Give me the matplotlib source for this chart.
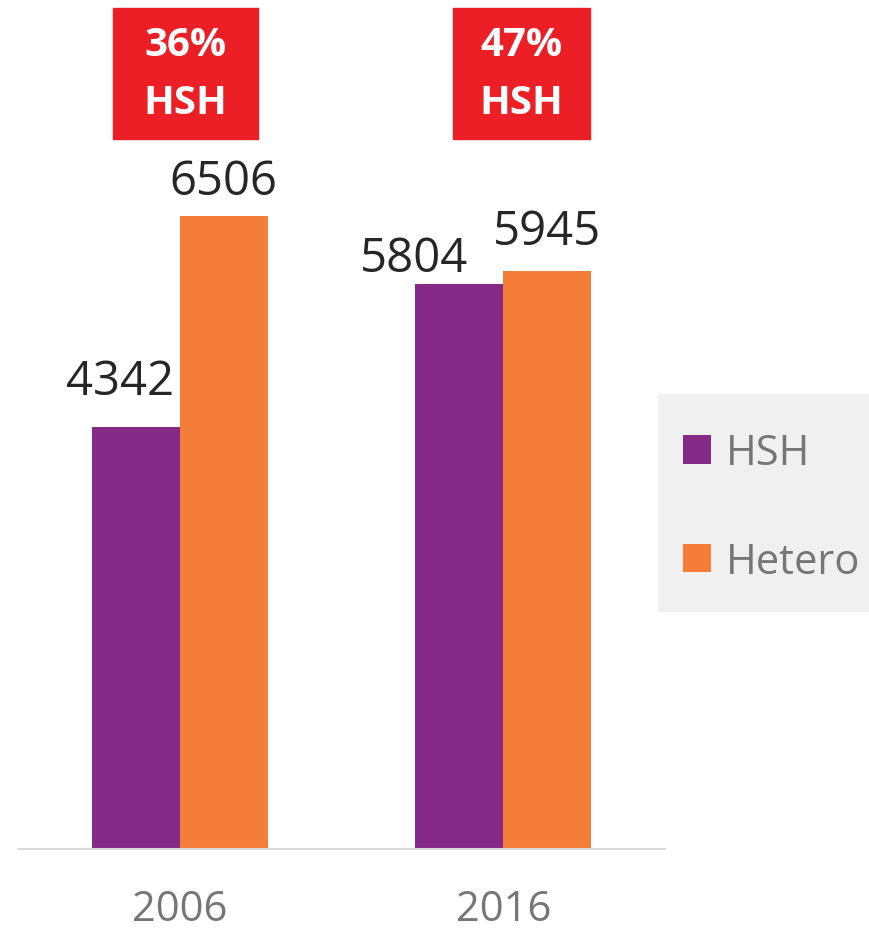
import matplotlib
matplotlib.use('Agg')
import matplotlib.pyplot as plt
from matplotlib.patches import Rectangle
import numpy as np

# data
years = ['2006', '2016']
hsh = [4342, 5804]
hetero = [6506, 5945]
share_pct = ['36%', '47%']
share_group = 'HSH'

PURPLE = '#862a87'
ORANGE = '#f47d3a'
RED = '#ec1f27'
GREY_TXT = '#767676'

plt.rcParams['font.family'] = ['Open Sans', 'DejaVu Sans']

W, H = 869, 929
fig = plt.figure(figsize=(W / 100, H / 100), dpi=100)

def fx(px):
    return px / W

def fy(py):
    return 1 - py / H

# axes: baseline at y=850, x from 18 to 665
ax = fig.add_axes([fx(18), fy(850), fx(665) - fx(18), fy(0) - fy(850)])

x = np.arange(len(years))
bw = 0.2716
b1 = ax.bar(x - bw / 2, hsh, bw, color=PURPLE, label='HSH')
b2 = ax.bar(x + bw / 2, hetero, bw, color=ORANGE, label='Hetero')

ax.set_xlim(-0.5, 1.5)
ax.set_ylim(0, 8736)
ax.set_yticks([])
for s in ['top', 'right', 'left']:
    ax.spines[s].set_visible(False)
ax.spines['bottom'].set_color('#d9d9d9')
ax.spines['bottom'].set_linewidth(1.5)
ax.set_xticks(x)
ax.set_xticklabels(years, fontsize=30, color=GREY_TXT)
ax.tick_params(axis='x', length=0, pad=28)

# value labels (offsets in pixels: dx, dy above bar)
hsh_off = [(-15.5, 33), (-45, 13)]
het_off = [(0, 22), (0, 27)]
for bars, vals, offs in [(b1, hsh, hsh_off), (b2, hetero, het_off)]:
    for rect, v, (dx, dy) in zip(bars, vals, offs):
        ax.annotate(str(v), (rect.get_x() + rect.get_width() / 2, rect.get_height()),
                    xytext=(dx * 0.72, dy * 0.72), textcoords='offset points',
                    ha='center', va='baseline', fontsize=34, color='#262626')

# red share boxes
box_x = [(113, 258), (453, 590)]
for (x0, x1), pct in zip(box_x, share_pct):
    fig.patches.append(Rectangle((fx(x0), fy(140)), fx(x1) - fx(x0), fy(9) - fy(140),
                                 transform=fig.transFigure, color=RED, zorder=3))
    cx = fx((x0 + x1) / 2)
    fig.text(cx, fy(46), pct, ha='center', va='center', fontsize=29,
             fontweight='bold', color='white', zorder=4)
    fig.text(cx, fy(104), share_group, ha='center', va='center', fontsize=29,
             fontweight='bold', color='white', zorder=4)

# legend background + legend
fig.patches.append(Rectangle((fx(658), fy(612)), fx(869) - fx(658), fy(395) - fy(612),
                             transform=fig.transFigure, color='#f0f0f0', zorder=0))
leg = fig.legend(handles=[b1, b2], loc='upper left',
                 bbox_to_anchor=(fx(683), fy(433)), bbox_transform=fig.transFigure,
                 fontsize=30, frameon=False, handlelength=0.68, handleheight=0.68,
                 handletextpad=0.35, labelspacing=1.6, borderpad=0,
                 borderaxespad=0)
for t in leg.get_texts():
    t.set_color(GREY_TXT)

fig.savefig('out.png', dpi=100)
